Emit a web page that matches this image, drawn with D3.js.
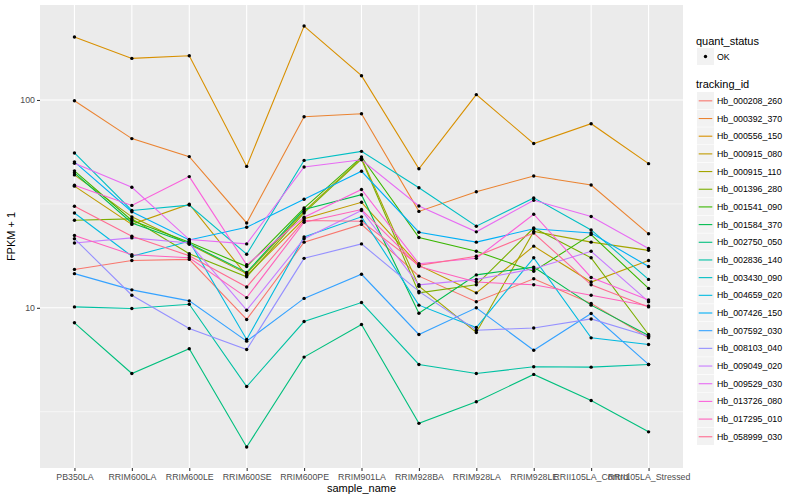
<!DOCTYPE html>
<html>
<head>
<meta charset="utf-8">
<script src="https://cdn.jsdelivr.net/npm/d3@7"></script>
<style>
  body { margin: 0; background: #fff; }
  text { font-family: "Liberation Sans", Arial, Helvetica, sans-serif; }
</style>
</head>
<body>
<svg id="chart" width="800" height="500"></svg>
<script>
// x categories
const samples = ['PB350LA', 'RRIM600LA', 'RRIM600LE', 'RRIM600SE', 'RRIM600PE', 'RRIM901LA',
                 'RRIM928BA', 'RRIM928LA', 'RRIM928LE', 'RRII105LA_Control', 'RRII105LA_Stressed'];

const trackingIds = ['Hb_000208_260', 'Hb_000392_370', 'Hb_000556_150', 'Hb_000915_080', 'Hb_000915_110',
                     'Hb_001396_280', 'Hb_001541_090', 'Hb_001584_370', 'Hb_002750_050', 'Hb_002836_140',
                     'Hb_003430_090', 'Hb_004659_020', 'Hb_007426_150', 'Hb_007592_030', 'Hb_008103_040',
                     'Hb_009049_020', 'Hb_009529_030', 'Hb_013726_080', 'Hb_017295_010', 'Hb_058999_030'];

// FPKM + 1, one value per sample
const hb_000208_260 = [15.3, 16.9, 17.1, 8.79, 20.7, 25.2, 14.2, 10.7, 13.8, 10.5, 7.17];
const hb_000392_370 = [99.2, 65.2, 53.4, 25.6, 83.1, 85.9, 29.1, 36.2, 43.1, 39.0, 22.7];
const hb_000556_150 = [201, 158.5, 163.3, 47.9, 226.9, 130.9, 46.7, 106.1, 61.7, 76.9, 49.4];
const hb_000915_080 = [38.5, 25.2, 31.5, 14.3, 26.8, 32.2, 16.0, 11.8, 19.8, 13.3, 16.9];
const hb_000915_110 = [43.6, 27.4, 20.2, 14.6, 29.1, 52.5, 12.7, 7.61, 23.3, 20.7, 18.9];
const hb_001396_280 = [26.4, 26.8, 18.2, 14.1, 28.6, 51.9, 11.8, 12.9, 24.2, 17.4, 7.44];
const hb_001541_090 = [45.6, 26.3, 20.7, 15.8, 30.2, 53.2, 21.8, 18.7, 15.0, 22.5, 12.4];
const hb_001584_370 = [44.6, 25.6, 20.4, 14.8, 29.7, 35.0, 9.42, 14.4, 15.7, 10.3, 7.36];
const hb_002750_050 = [8.47, 4.83, 6.35, 2.14, 5.79, 8.31, 2.78, 3.53, 4.78, 3.58, 2.53];
const hb_002836_140 = [10.1, 9.92, 10.4, 4.18, 8.59, 10.6, 5.34, 4.83, 5.20, 5.18, 5.34];
const hb_003430_090 = [55.6, 29.4, 31.2, 18.1, 51.2, 56.6, 37.8, 24.7, 33.8, 23.7, 13.7];
const hb_004659_020 = [28.6, 17.7, 20.9, 7.04, 21.9, 27.4, 10.3, 8.04, 17.4, 7.17, 6.66];
const hb_007426_150 = [50.4, 29.0, 21.2, 24.4, 33.3, 45.4, 23.1, 20.7, 24.0, 22.9, 15.8];
const hb_007592_030 = [14.6, 12.2, 10.8, 6.91, 11.1, 14.5, 7.44, 10.0, 6.25, 9.39, 5.34];
const hb_008103_040 = [21.5, 11.5, 7.95, 6.30, 17.3, 20.3, 12.0, 7.80, 8.00, 8.84, 7.30];
const hb_009049_020 = [20.5, 21.7, 20.5, 9.74, 21.5, 29.4, 12.9, 13.7, 15.4, 18.7, 10.7];
const hb_009529_030 = [49.6, 38.0, 21.3, 20.3, 47.6, 51.6, 30.9, 23.2, 32.9, 27.5, 19.3];
const hb_013726_080 = [38.9, 31.1, 42.8, 16.1, 27.3, 37.1, 16.3, 17.3, 28.2, 14.0, 10.9];
const hb_017295_010 = [22.3, 18.0, 17.4, 11.2, 25.8, 29.7, 15.8, 13.3, 12.9, 11.5, 10.2];
const hb_058999_030 = [30.8, 22.1, 17.8, 12.6, 26.3, 26.1, 16.0, 17.7, 22.9, 12.9, 10.1];

const yTicks = [10, 100];
const yMinor = [3.1623, 31.623];

const allSeries = [hb_000208_260, hb_000392_370, hb_000556_150, hb_000915_080, hb_000915_110,
                   hb_001396_280, hb_001541_090, hb_001584_370, hb_002750_050, hb_002836_140,
                   hb_003430_090, hb_004659_020, hb_007426_150, hb_007592_030, hb_008103_040,
                   hb_009049_020, hb_009529_030, hb_013726_080, hb_017295_010, hb_058999_030];

// ggplot default hue palette for 20 groups
const palette = ['#F8766D', '#EA8331', '#D89000', '#C09B00', '#A3A500', '#7CAE00', '#39B600', '#00BB4E',
                 '#00BF7D', '#00C1A3', '#00BFC4', '#00BAE0', '#00B0F6', '#35A2FF', '#9590FF', '#C77CFF',
                 '#E76BF3', '#FA62DB', '#FF62BC', '#FF6C91'];

let svg = d3.select('#chart');
const panel = {left: 40, right: 683, top: 5, bottom: 468};

let x = d3.scalePoint().domain(samples).range([panel.left, panel.right]).padding(0.6);

// log scale with 5% expansion like ggplot
let allVals = allSeries.flat();
let lo = Math.log10(d3.min(allVals)), hi = Math.log10(d3.max(allVals));
let pad = (hi - lo) * 0.05;
let y = d3.scaleLog().domain([10 ** (lo - pad), 10 ** (hi + pad)]).range([panel.bottom, panel.top]);

let color = d3.scaleOrdinal().domain(trackingIds).range(palette);

// panel background + grid
svg.append('rect').attr('x', panel.left).attr('y', panel.top)
   .attr('width', panel.right - panel.left).attr('height', panel.bottom - panel.top)
   .attr('fill', '#EBEBEB');

let grid = svg.append('g');
grid.selectAll('.minor').data(yMinor).enter().append('line')
    .attr('x1', panel.left).attr('x2', panel.right)
    .attr('y1', d => y(d)).attr('y2', d => y(d))
    .attr('stroke', '#fff').attr('stroke-width', 0.55);
grid.selectAll('.major-y').data(yTicks).enter().append('line')
    .attr('x1', panel.left).attr('x2', panel.right)
    .attr('y1', d => y(d)).attr('y2', d => y(d))
    .attr('stroke', '#fff').attr('stroke-width', 1.1);
grid.selectAll('.major-x').data(samples).enter().append('line')
    .attr('x1', d => x(d)).attr('x2', d => x(d))
    .attr('y1', panel.top).attr('y2', panel.bottom)
    .attr('stroke', '#fff').attr('stroke-width', 1.1);

// lines then points
let line = d3.line().x((d, i) => x(samples[i])).y(d => y(d));
let series = trackingIds.map((id, i) => ({id: id, values: allSeries[i]}));

svg.append('g').selectAll('path').data(series).enter().append('path')
   .attr('d', d => line(d.values))
   .attr('fill', 'none')
   .attr('stroke', d => color(d.id))
   .attr('stroke-width', 1.1);

let pts = svg.append('g');
series.forEach(s => {
    pts.selectAll(null).data(s.values).enter().append('circle')
       .attr('cx', (d, i) => x(samples[i])).attr('cy', d => y(d))
       .attr('r', 1.7).attr('fill', '#000');
});

// axes
let xAxis = svg.append('g').attr('transform', `translate(0,${panel.bottom})`)
    .call(d3.axisBottom(x).tickSize(3).tickPadding(2.5));
let yAxis = svg.append('g').attr('transform', `translate(${panel.left},0)`)
    .call(d3.axisLeft(y).tickValues(yTicks).tickFormat(d3.format('d')).tickSize(3).tickPadding(2));
[xAxis, yAxis].forEach(a => {
    a.select('.domain').remove();
    a.selectAll('.tick line').attr('stroke', '#333333').attr('stroke-width', 1.07);
    a.selectAll('.tick text').attr('fill', '#4D4D4D').style('font-size', '8.8px')
     .style('font-family', '"Liberation Sans", Arial, sans-serif');
});

// axis titles
svg.append('text').attr('x', (panel.left + panel.right) / 2).attr('y', 492)
   .attr('text-anchor', 'middle').style('font-size', '11px').text('sample_name');
svg.append('text').attr('transform', `translate(15,${(panel.top + panel.bottom) / 2}) rotate(-90)`)
   .attr('text-anchor', 'middle').style('font-size', '11px').text('FPKM + 1');

// legends
const lx = 696, keyW = 17, keyH = 17.68;
svg.append('text').attr('x', lx).attr('y', 44.5).style('font-size', '11px').text('quant_status');
svg.append('rect').attr('x', lx + 1).attr('y', 48).attr('width', keyW).attr('height', keyW).attr('fill', '#F2F2F2');
svg.append('circle').attr('cx', lx + 1 + keyW / 2).attr('cy', 56.5).attr('r', 1.7).attr('fill', '#000');
svg.append('text').attr('x', lx + 21).attr('y', 59.7).style('font-size', '8.8px').text('OK');

svg.append('text').attr('x', lx).attr('y', 88).style('font-size', '11px').text('tracking_id');
let leg = svg.append('g').selectAll('g').data(trackingIds).enter().append('g')
    .attr('transform', (d, i) => `translate(${lx + 1},${92 + i * keyH})`);
leg.append('rect').attr('width', keyW).attr('height', keyH - 0.6).attr('fill', '#F2F2F2');
leg.append('line').attr('x1', 1.7).attr('x2', keyW - 1.7).attr('y1', keyH / 2).attr('y2', keyH / 2)
   .attr('stroke', d => color(d)).attr('stroke-width', 1.1);
leg.append('text').attr('x', 20).attr('y', keyH / 2 + 3.1).style('font-size', '8.8px').text(d => d);
</script>
</body>
</html>
